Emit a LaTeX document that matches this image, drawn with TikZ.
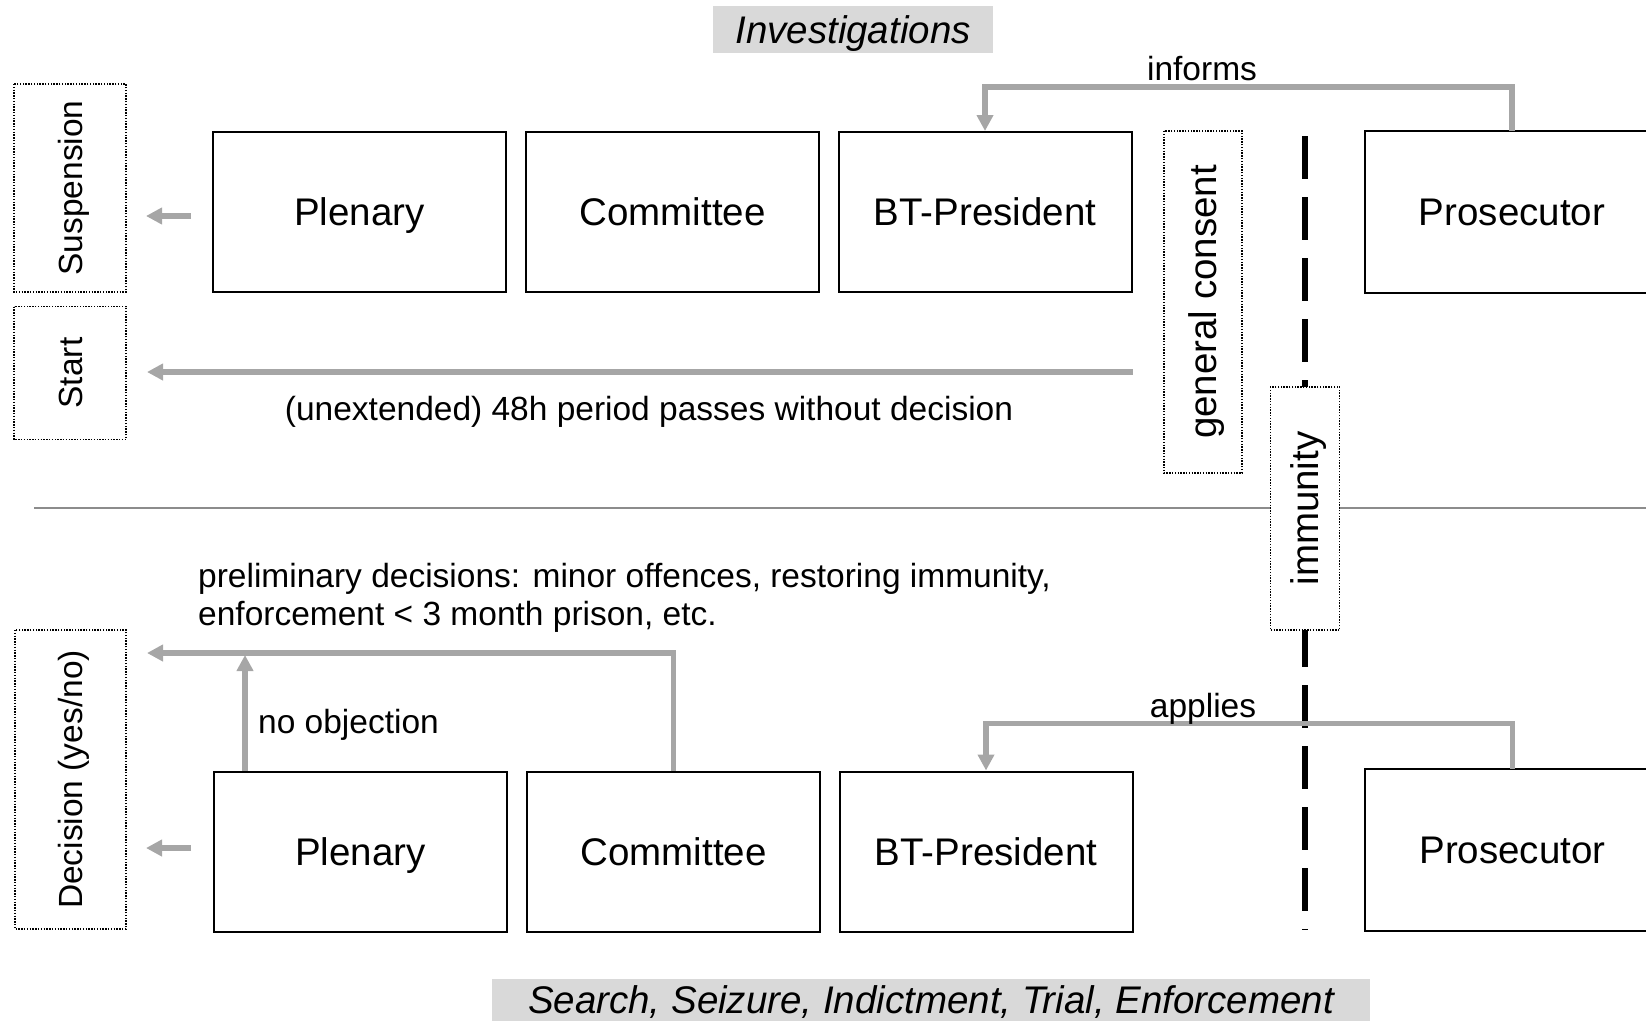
\documentclass[tikz,border=0pt]{standalone}
\usepackage{fontspec}
\setmainfont{Liberation Sans}
\usetikzlibrary{arrows.meta}
\definecolor{garrowc}{HTML}{A6A6A6}
\definecolor{boxgray}{HTML}{D9D9D9}
\definecolor{sepc}{HTML}{8C8C8C}
\begin{document}
\begin{tikzpicture}[x=1pt,y=-1pt,
  actor/.style={draw=black, line width=2pt, minimum width=293pt, minimum height=160pt, inner sep=0pt,
    font=\fontsize{38.5}{44}\selectfont, text height=27.5pt, text depth=0pt},
  dotS/.style={draw=black, line width=1.3pt, dash pattern=on 1.4pt off 1.4pt, fill=white, inner sep=0pt,
    rotate=90, font=\fontsize{33.5}{38.5}\selectfont, text height=24pt, text depth=0pt},
  dotB/.style={dotS, font=\fontsize{38.5}{44}\selectfont, text height=27.5pt},
  garrow/.style={draw=garrowc, line width=5.5pt, -{Triangle[length=16pt,width=16pt]}},
  gline/.style={draw=garrowc, line width=5.5pt},
  lbl/.style={inner sep=0pt, font=\fontsize{33.5}{38.5}\selectfont, text height=24pt, text depth=0pt},
  banner/.style={fill=boxgray, inner sep=0pt, font=\fontsize{38.5}{44}\selectfont\itshape, text height=27.5pt, text depth=0pt}
]
\useasboundingbox (0,0) rectangle (1646,1021);

% separator and immunity line (behind boxes)
\draw[draw=sepc, line width=2pt] (34,508) -- (1646,508);
\draw[black, line width=6pt, dash pattern=on 43pt off 18pt] (1305,136) -- (1305,930);

% banners
\node[banner, minimum width=280pt, minimum height=47pt] (inv) at (853,29.5) {Investigations};
\node[banner, minimum width=878pt, minimum height=42pt] (sea) at (931,1000) {Search, Seizure, Indictment, Trial, Enforcement};

% top row
\node[actor] (plenA) at (359.5,212) {Plenary};
\node[actor] (commA) at (672.5,212) {Committee};
\node[actor] (btA) at (985,212) {BT-President};
\node[actor, draw=none] (prosA) at (1512,212) {Prosecutor};
\draw[line width=2pt] (prosA.north west) ++(285,0) -- (prosA.north west) -- (prosA.south west) -- ++(285,0);

% bottom row
\node[actor] (plenB) at (360.5,851.5) {Plenary};
\node[actor] (commB) at (673.5,851.5) {Committee};
\node[actor] (btB) at (986,851.5) {BT-President};
\node[actor, draw=none] (prosB) at (1512.5,849.5) {Prosecutor};
\draw[line width=2pt] (prosB.north west) ++(285,0) -- (prosB.north west) -- (prosB.south west) -- ++(285,0);

% dotted label boxes
\node[dotS, minimum width=208pt, minimum height=112pt] (susp) at (70,188) {Suspension};
\node[dotS, minimum width=133pt, minimum height=112pt] (start) at (70,373) {Start};
\node[dotS, minimum width=299pt, minimum height=111pt] (dec) at (70.5,779.5) {Decision (yes/no)};
\node[dotB, minimum width=342pt, minimum height=78pt] (gc) at (1203,302) {general consent};
\node[dotB, minimum width=243pt, minimum height=69.5pt] (imm) at (1305,508.5) {immunity};

% connectors top
\draw[garrow] ([xshift=-21pt,yshift=-4pt]plenA.west) -- ++(-45,0);
\coordinate (startTip) at (147,372);
\draw[garrow] (btA.east |- startTip) -- (startTip);
\draw[garrow] (prosA.north) -- ++(0,-44) -| (btA.north);
\node[lbl] (informs) at (1202,68) {informs};
\node[lbl] (period) at (649,408) {(unextended) 48h period passes without decision};

% connectors bottom
\coordinate (decTip) at (147,653);
\draw[garrow] (commB.north) |- (decTip);
\draw[garrow] ([xshift=32pt]plenB.north west) -- ([xshift=32pt,yshift=-2pt]plenB.north west |- decTip);
\draw[garrow] ([xshift=-22pt,yshift=3.5pt]plenB.west) -- ++(-45,0);
\draw[garrow] (prosB.north) -- ++(0,-45) -| (btB.north);
\node[lbl] (applies) at (1203,705) {applies};
\node[lbl, anchor=west] (prel1) at (198,575) {preliminary decisions: minor offences, restoring immunity,};
\node[lbl, anchor=west] (prel2) at (198,613) {enforcement < 3 month prison, etc.};
\node[lbl, anchor=west] (noobj) at (258,721) {no objection};
\end{tikzpicture}
\end{document}
